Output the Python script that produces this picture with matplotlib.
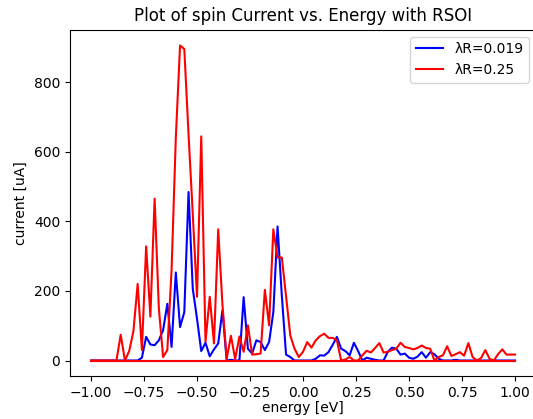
import numpy as np
import matplotlib
matplotlib.use("Agg")
from matplotlib import pyplot as plt

# energy grid, 101 points between -1 and 1 eV
energy = np.linspace(-1.0, 1.0, 101)

# spin current for lambda_R = 0.019 (blue)
current_small = [
    0, 0, 0, 0, 0, 0, 0, 0, 0, 0,
    0, 0, 8, 68, 46, 44, 58, 87, 163, 39,
    253, 96, 139, 484, 206, 120, 27, 51, 12, 32,
    49, 144, 0, 2, 0, 0, 182, 34, 20, 58,
    53, 30, 53, 139, 385, 187, 17, 10, 0, 0,
    0, 0, 0, 5, 15, 14, 24, 45, 68, 34,
    27, 15, 51, 27, 0, 8, 5, 2, 0, 0,
    25, 37, 34, 17, 20, 8, 5, 11, 24, 8,
    24, 18, 5, 0, 0, 0, 2, 0, 0, 0,
    0, 0, 0, 0, 0, 0, 0, 0, 0, 0,
    0,
]

# spin current for lambda_R = 0.25 (red)
current_large = [
    0, 0, 0, 0, 0, 0, 0, 74, 0, 27,
    84, 220, 30, 328, 126, 465, 150, 10, 30, 260,
    640, 905, 895, 650, 420, 183, 644, 54, 183, 49,
    377, 160, 5, 71, 4, 69, 25, 101, 17, 18,
    20, 203, 101, 377, 296, 296, 185, 72, 34, 10,
    25, 53, 37, 58, 70, 77, 65, 65, 58, 0,
    3, 10, 0, 0, 15, 28, 23, 36, 50, 23,
    25, 30, 34, 51, 39, 36, 32, 36, 43, 36,
    34, 0, 10, 15, 41, 13, 18, 24, 14, 50,
    10, 0, 7, 30, 5, 0, 18, 32, 17, 17,
    17,
]

zero_line = np.zeros_like(energy)

fig, ax = plt.subplots(figsize=(5.33, 4.19), dpi=100)
fig.subplots_adjust(left=0.131, right=1.006, top=0.929, bottom=0.102)

ax.plot(energy, current_small, color="blue", label="\u03bbR=0.019")
ax.plot(energy, zero_line, color="blue")
ax.plot(energy, current_large, color="red", label="\u03bbR=0.25")
ax.plot(energy, zero_line, color="red")

ax.set_title("Plot of spin Current vs. Energy with RSOI")
ax.set_xlabel("energy [eV]", labelpad=1)
ax.set_ylabel("current [uA]")
ax.legend(loc="upper right")

fig.savefig("out.png", dpi=100)
